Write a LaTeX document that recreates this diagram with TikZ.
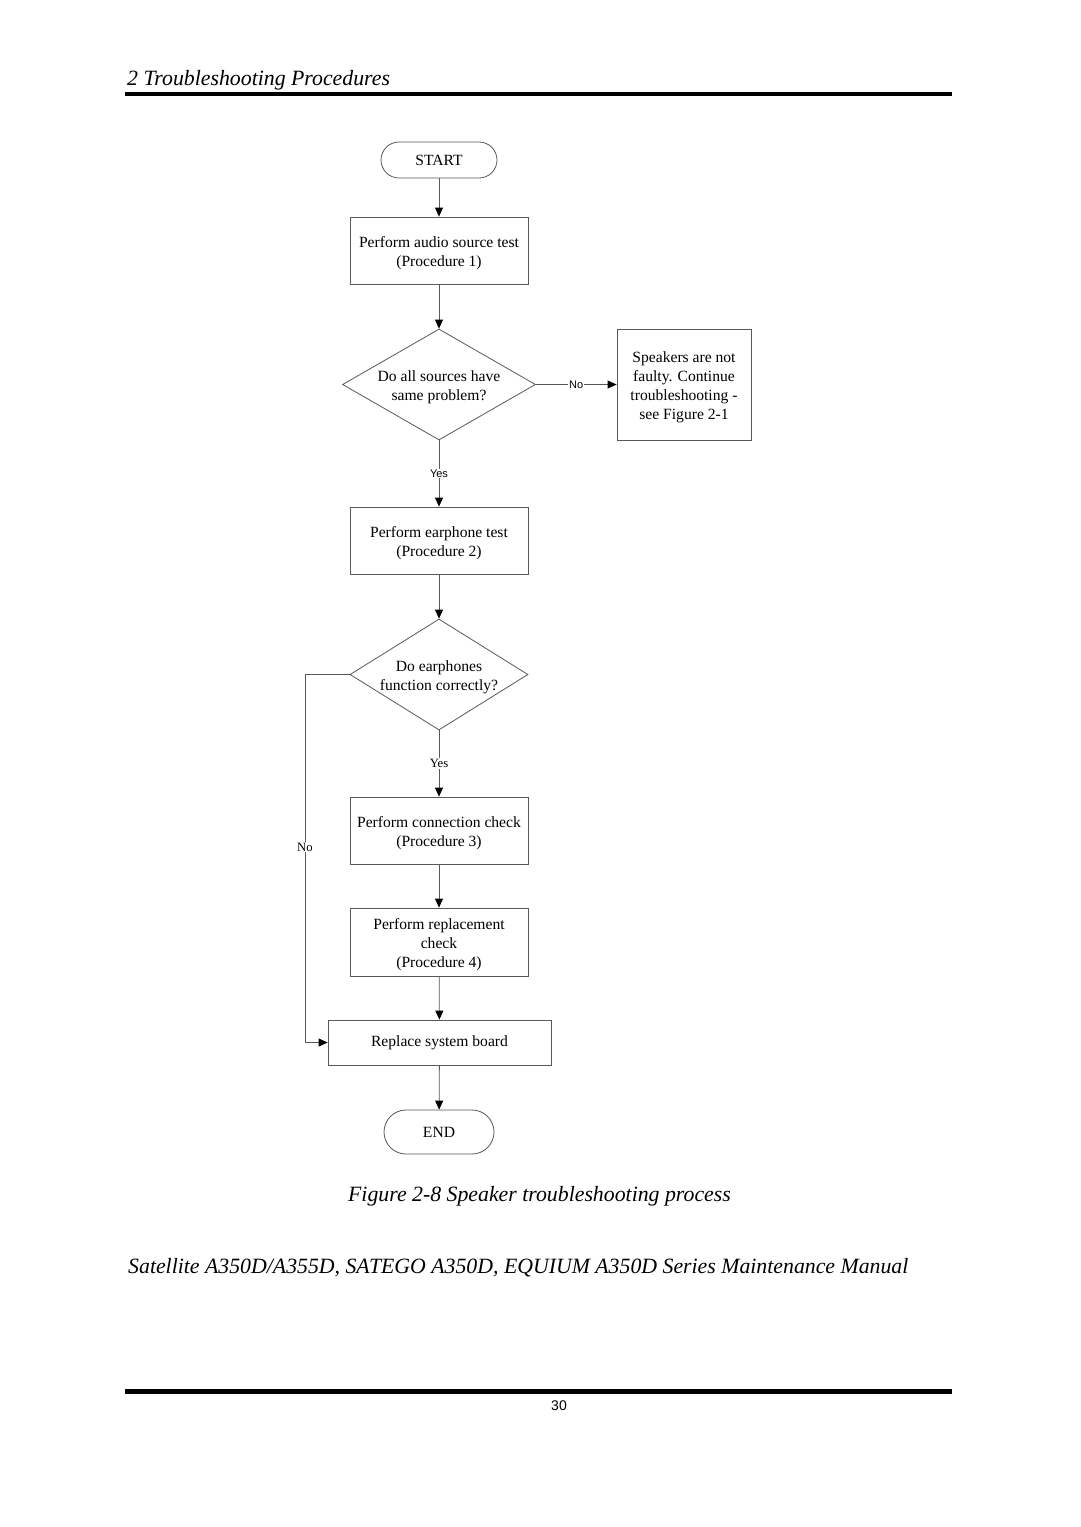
\documentclass[tikz,border=0pt]{standalone}
\usepackage{fontspec}
\setmainfont{Liberation Serif}
\newfontfamily\arialfont{Liberation Sans}
\usetikzlibrary{arrows.meta,shapes.geometric}
\tikzset{
  ln/.style={draw=black!65, line width=0.8pt},
  arr/.style={ln, -{Triangle[length=9pt,width=8pt,fill=black,color=black]}},
  procbox/.style={draw=black!65, line width=0.8pt, rectangle, inner sep=0pt, align=center,
     font=\fontsize{15.6}{19}\selectfont},
  termbox/.style={draw=black!65, line width=0.8pt, rectangle, rounded corners=18pt, inner sep=0pt,
     font=\fontsize{15.6}{19}\selectfont},
  decbox/.style={draw=black!65, line width=0.8pt, diamond, inner sep=0pt},
  boxtext/.style={align=center, yshift=-3pt, font=\fontsize{15.6}{19}\selectfont},
  sanslbl/.style={fill=white, inner sep=1pt, font=\arialfont\fontsize{11}{12}\selectfont},
  seriflbl/.style={fill=white, inner sep=1pt, font=\fontsize{12.7}{13}\selectfont},
  headtext/.style={inner sep=0pt, font=\itshape\fontsize{21.8}{26}\selectfont},
}
\begin{document}
\begin{tikzpicture}[x=1pt,y=-1pt]
\useasboundingbox[fill=white] (0,0) rectangle (1080,1527);

% header and footer
\node[headtext, anchor=base west] (hdr) at (127,85) {2 Troubleshooting Procedures};
\draw[line width=4pt] (125,94) coordinate (r1a) -- (952,94) coordinate (r1b);
\node[headtext, anchor=base] (cap) at (539.5,1201) {Figure 2-8 Speaker troubleshooting process};
\node[headtext, anchor=base west] (man) at (128,1273) {Satellite A350D/A355D, SATEGO A350D, EQUIUM A350D Series Maintenance Manual};
\draw[line width=4.5pt] (125,1391.5) coordinate (r2a) -- (952,1391.5) coordinate (r2b);
\node[inner sep=0pt, font=\arialfont\fontsize{14}{16}\selectfont] (pg) at (559,1406) {30};

% flowchart
\node[termbox, minimum width=116pt, minimum height=36pt] (start) at (439,160) {START};
\node[procbox, minimum width=178pt, minimum height=67pt,
      label={[boxtext]center:Perform audio source test\\(Procedure 1)}] (p1) at (439,250.5) {};
\node[decbox, minimum width=193pt, minimum height=111pt,
      label={[boxtext]center:Do all sources have\\same problem?}] (d1) at (439,384.5) {};
\node[procbox, minimum width=134pt, minimum height=111pt,
      label={[boxtext]center:Speakers are not\\faulty. Continue\\troubleshooting -\\see Figure 2-1}] (spk) at (684,384.5) {};
\node[procbox, minimum width=178pt, minimum height=67pt,
      label={[boxtext]center:Perform earphone test\\(Procedure 2)}] (p2) at (439,540.5) {};
\node[decbox, minimum width=178pt, minimum height=111pt,
      label={[boxtext]center:Do earphones\\function correctly?}] (d2) at (439,674.5) {};
\node[procbox, minimum width=178pt, minimum height=67pt,
      label={[boxtext]center:Perform connection check\\(Procedure 3)}] (p3) at (439,830.5) {};
\node[procbox, minimum width=178pt, minimum height=68pt,
      label={[boxtext]center:Perform replacement\\check\\(Procedure 4)}] (p4) at (439,942) {};
\node[procbox, minimum width=223pt, minimum height=45pt] (p5) at (439.5,1042.5) {Replace system board};
\node[termbox, minimum width=110pt, minimum height=44pt, rounded corners=22pt] (end) at (439,1132) {END};

\coordinate (n1) at (305,674.5);
\coordinate (n2) at (305,1042.5);

\draw[arr] (start) -- (p1);
\draw[arr] (p1) -- (d1.north);
\draw[arr] (d1.east) -- node[sanslbl] {No} (spk.west);
\draw[arr] (d1.south) -- node[sanslbl] {Yes} (p2.north);
\draw[arr] (p2) -- (d2.north);
\draw[arr] (d2.south) -- node[seriflbl] {Yes} (p3.north);
\draw[arr] (d2.west) -- (n1) -- node[seriflbl, pos=0.469] {No} (n2) -- (p5.west);
\draw[arr] (p3) -- (p4);
\draw[arr] (p4) -- (p5);
\draw[arr] (p5) -- (end);
\end{tikzpicture}
\end{document}
